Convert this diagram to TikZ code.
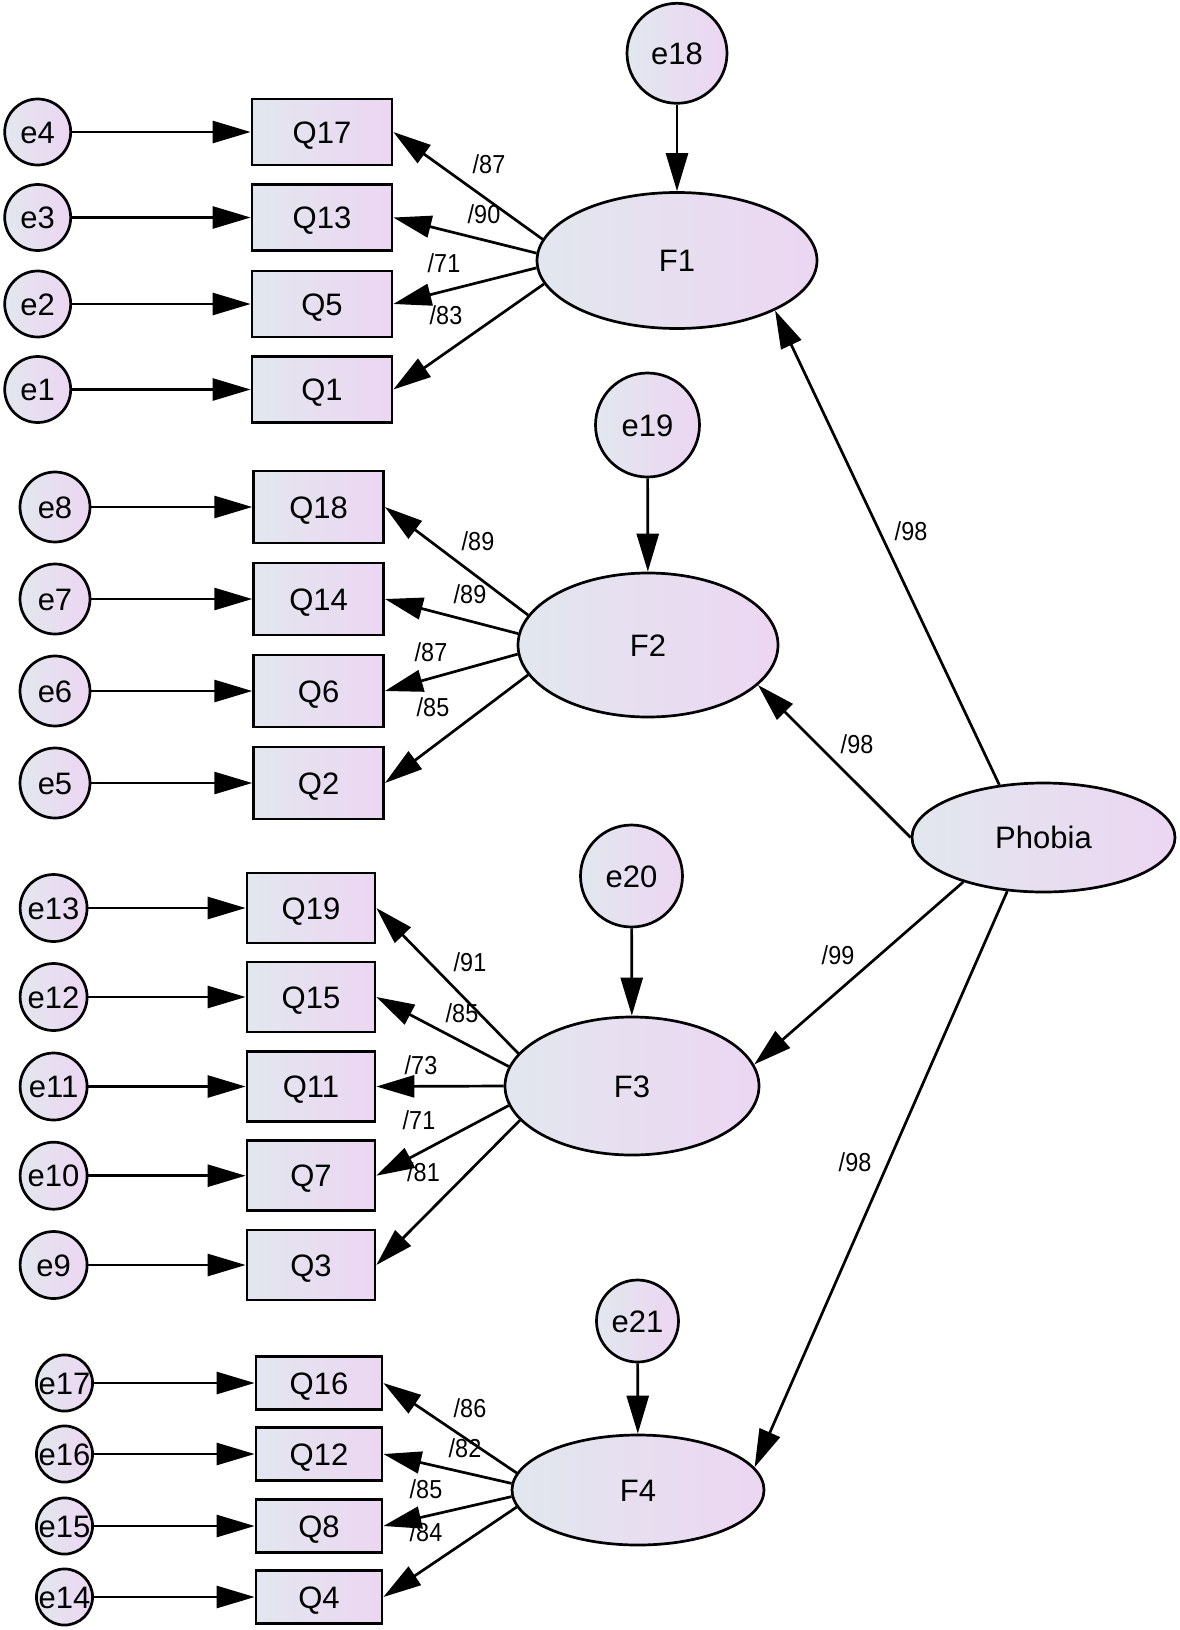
\documentclass[tikz,border=0pt]{standalone}
\usepackage{fontspec}
\setmainfont{Liberation Sans}
\newfontfamily\lblfont[FakeStretch=0.9]{Liberation Sans}
\usetikzlibrary{shapes.geometric,arrows.meta}
\definecolor{fillA}{RGB}{226,231,238}
\definecolor{fillB}{RGB}{236,214,242}
\newcommand\myNodeFont{\fontsize{31}{37}\selectfont}
\begin{document}
\begin{tikzpicture}[x=1pt,y=-1pt,
  grad/.style={draw=black,line width=2.7pt,left color=fillA,right color=fillB},
  errc/.style={grad,circle,inner sep=0pt,font=\myNodeFont,text height=22.2pt,text depth=0pt},
  obs/.style={grad,rectangle,inner sep=0pt,font=\myNodeFont,text height=22.2pt,text depth=0pt},
  lat/.style={grad,ellipse,inner sep=0pt,font=\myNodeFont,text height=22.2pt,text depth=0pt},
  arr/.style={line width=2.7pt,-{Triangle[length=38pt,width=22pt]}},
  lbl/.style={font=\lblfont\fontsize{26}{30}\selectfont,inner sep=0pt}]
\useasboundingbox (0,0) rectangle (1180,1630);
% ---------------- block 1
\node[errc,minimum size=66pt] (e4) at (37.7,132) {e4};
\node[errc,minimum size=66pt] (e3) at (37.7,217.5) {e3};
\node[errc,minimum size=66pt] (e2) at (37.7,304) {e2};
\node[errc,minimum size=66pt] (e1) at (37.7,389.5) {e1};
\node[obs,minimum width=140pt,minimum height=66pt] (Q17) at (322,132) {Q17};
\node[obs,minimum width=140pt,minimum height=66pt] (Q13) at (322,217.5) {Q13};
\node[obs,minimum width=140pt,minimum height=66pt] (Q5) at (322,304) {Q5};
\node[obs,minimum width=140pt,minimum height=66pt] (Q1) at (322,389.5) {Q1};
\node[errc,minimum size=100pt] (e18) at (677,53.3) {e18};
\node[lat,minimum width=280pt,minimum height=136pt] (F1) at (677,260.5) {F1};
% ---------------- block 2
\node[errc,minimum size=70pt] (e8) at (55,507) {e8};
\node[errc,minimum size=70pt] (e7) at (55,599) {e7};
\node[errc,minimum size=70pt] (e6) at (55,691) {e6};
\node[errc,minimum size=70pt] (e5) at (55,783) {e5};
\node[obs,minimum width=130pt,minimum height=72pt] (Q18) at (318.6,507) {Q18};
\node[obs,minimum width=130pt,minimum height=72pt] (Q14) at (318.6,599) {Q14};
\node[obs,minimum width=130pt,minimum height=72pt] (Q6) at (318.6,691) {Q6};
\node[obs,minimum width=130pt,minimum height=72pt] (Q2) at (318.6,783) {Q2};
\node[errc,minimum size=104pt] (e19) at (647.5,425) {e19};
\node[lat,minimum width=260pt,minimum height=144pt] (F2) at (648,645) {F2};
% ---------------- block 3
\node[errc,minimum size=67pt] (e13) at (53.6,908) {e13};
\node[errc,minimum size=67pt] (e12) at (53.6,997) {e12};
\node[errc,minimum size=67pt] (e11) at (53.6,1086.5) {e11};
\node[errc,minimum size=67pt] (e10) at (53.6,1175.7) {e10};
\node[errc,minimum size=67pt] (e9) at (53.6,1265) {e9};
\node[obs,minimum width=128pt,minimum height=70pt] (Q19) at (311,908) {Q19};
\node[obs,minimum width=128pt,minimum height=70pt] (Q15) at (311,997) {Q15};
\node[obs,minimum width=128pt,minimum height=70pt] (Q11) at (311,1086.5) {Q11};
\node[obs,minimum width=128pt,minimum height=70pt] (Q7) at (311,1175.7) {Q7};
\node[obs,minimum width=128pt,minimum height=70pt] (Q3) at (311,1265) {Q3};
\node[errc,minimum size=102pt] (e20) at (631.5,876) {e20};
\node[lat,minimum width=254pt,minimum height=138pt] (F3) at (632,1086) {F3};
% ---------------- block 4
\node[errc,minimum size=54pt] (e17) at (64.5,1383) {e17};
\node[errc,minimum size=54pt] (e16) at (64.5,1454) {e16};
\node[errc,minimum size=54pt] (e15) at (64.5,1526) {e15};
\node[errc,minimum size=54pt] (e14) at (64.5,1597) {e14};
\node[obs,minimum width=126pt,minimum height=53pt] (Q16) at (319,1383) {Q16};
\node[obs,minimum width=126pt,minimum height=53pt] (Q12) at (319,1454) {Q12};
\node[obs,minimum width=126pt,minimum height=53pt] (Q8) at (319,1526) {Q8};
\node[obs,minimum width=126pt,minimum height=53pt] (Q4) at (319,1597) {Q4};
\node[errc,minimum size=82pt] (e21) at (637.5,1321) {e21};
\node[lat,minimum width=252pt,minimum height=110pt] (F4) at (638,1490) {F4};
% ---------------- second order
\node[lat,minimum width=263pt,minimum height=109pt] (Phobia) at (1043.5,837.5) {Phobia};
% ---------------- error arrows
\foreach \e/\q in {e4/Q17,e3/Q13,e2/Q5,e1/Q1,e8/Q18,e7/Q14,e6/Q6,e5/Q2,
  e13/Q19,e12/Q15,e11/Q11,e10/Q7,e9/Q3,e17/Q16,e16/Q12,e15/Q8,e14/Q4}
  \draw[arr] (\e) -- (\q);
\draw[arr] (e18) -- (F1);
\draw[arr] (e19) -- (F2);
\draw[arr] (e20) -- (F3);
\draw[arr] (e21) -- (F4);
% ---------------- loadings
\draw[arr] (F1.171) -- (Q17.east);
\draw[arr] (F1.177) -- (Q13.east);
\draw[arr] (F1.183) -- (Q5.east);
\draw[arr] (F1.190) -- (Q1.east);
\draw[arr] (F2.166) -- (Q18.east);
\draw[arr] (F2.175) -- (Q14.east);
\draw[arr] (F2.184) -- (Q6.east);
\draw[arr] (F2.194) -- (Q2.east);
\draw[arr] (F3.164) -- (Q19.east);
\draw[arr] (F3.171) -- (Q15.east);
\draw[arr] (F3.180) -- (Q11.east);
\draw[arr] (F3.189) -- (Q7.east);
\draw[arr] (F3.197) -- (Q3.east);
\draw[arr] (F4.172) -- (Q16.east);
\draw[arr] (F4.177) -- (Q12.east);
\draw[arr] (F4.183) -- (Q8.east);
\draw[arr] (F4.188) -- (Q4.east);
\draw[arr] (Phobia.130) -- (F1.-27);
\draw[arr] (Phobia.180) -- (F2.-20);
\draw[arr] (Phobia.209) -- (F3.10);
\draw[arr] (Phobia.236) -- (F4.11);
% ---------------- labels
\node[lbl] (l1) at (489,164) {/87};
\node[lbl] (l2) at (484,214) {/90};
\node[lbl] (l3) at (444,263) {/71};
\node[lbl] (l4) at (446,315) {/83};
\node[lbl] (l5) at (478,541) {/89};
\node[lbl] (l6) at (470,594) {/89};
\node[lbl] (l7) at (431,652) {/87};
\node[lbl] (l8) at (433,707) {/85};
\node[lbl] (l9) at (470,962) {/91};
\node[lbl] (l10) at (462,1013) {/85};
\node[lbl] (l11) at (421,1065) {/73};
\node[lbl] (l12) at (419,1120) {/71};
\node[lbl] (l13) at (423.5,1172) {/81};
\node[lbl] (l14) at (470,1408) {/86};
\node[lbl] (l15) at (465,1448) {/82};
\node[lbl] (l16) at (426,1489) {/85};
\node[lbl] (l17) at (426,1532) {/84};
\node[lbl] (l18) at (911,531) {/98};
\node[lbl] (l19) at (857,744) {/98};
\node[lbl] (l20) at (838,955) {/99};
\node[lbl] (l21) at (855,1162) {/98};
\end{tikzpicture}
\end{document}
